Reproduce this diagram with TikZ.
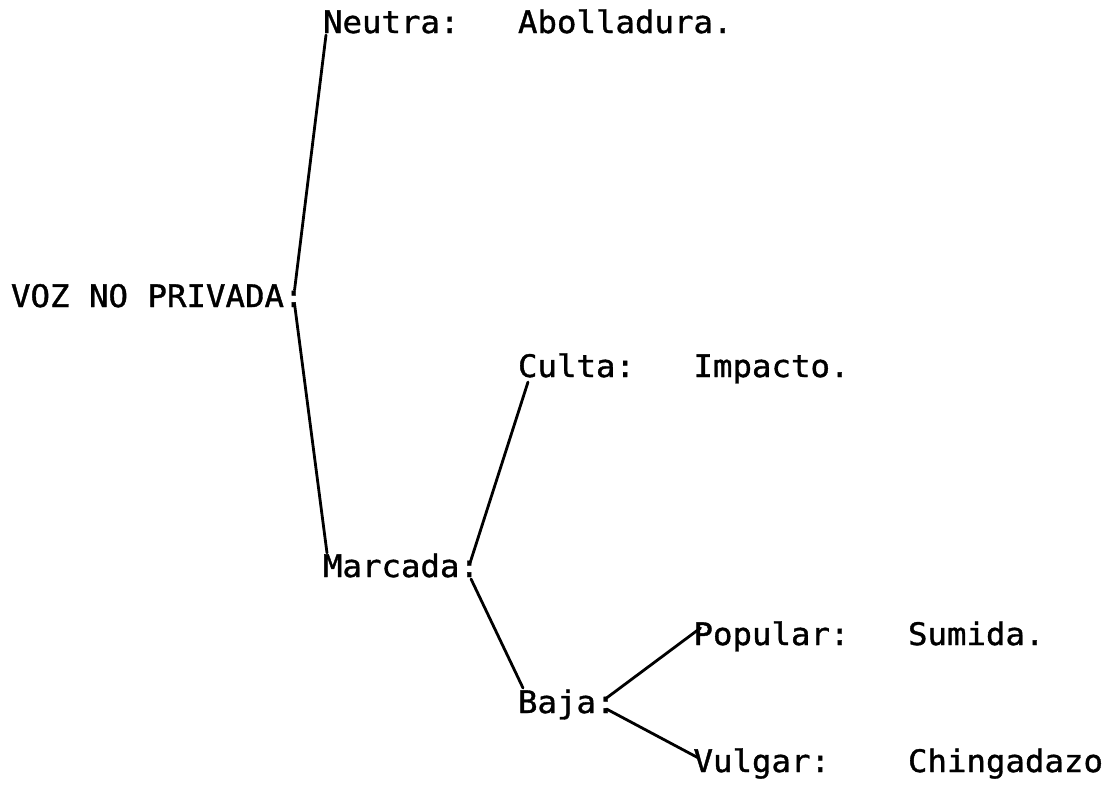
\documentclass[tikz,border=0pt]{standalone}
\usepackage{fontspec}
\newfontfamily\tw[FakeStretch=1.045,FakeBold=1.2]{DejaVu Sans Mono}
\usetikzlibrary{calc}
\tikzset{
  lbl/.style={anchor=base west, inner sep=0pt, outer sep=0pt, font=\tw\fontsize{31}{31}\selectfont},
  branch/.style={line width=2.8pt, line cap=round}
}
\begin{document}
\begin{tikzpicture}[x=1pt,y=-1pt]
\useasboundingbox[fill=white] (0,0) rectangle (1111,785);
% text nodes (x = column grid, y = baseline)
\node[lbl] (voz) at (11,307) {VOZ NO PRIVADA:};
\node[lbl] (neu) at (323,33) {Neutra:};
\node[lbl] (abo) at (518,33) {Abolladura.};
\node[lbl] (mar) at (323,577) {Marcada:};
\node[lbl] (cul) at (518,377) {Culta:};
\node[lbl] (imp) at (693.5,377) {Impacto.};
\node[lbl] (baj) at (518,713) {Baja:};
\node[lbl] (pop) at (693.5,645) {Popular:};
\node[lbl] (sum) at (908,645) {Sumida.};
\node[lbl] (vul) at (693.5,772) {Vulgar:};
\node[lbl] (chi) at (908,772) {Chingadazo};
% connectors
\draw[branch] ($(voz.base east)+(-9,-17)$) -- ($(neu.base west)+(3,2)$);
\draw[branch] ($(voz.base east)+(-9,-3)$) -- ($(mar.base west)+(4,-24)$);
\draw[branch] ($(mar.base east)+(-9,-14)$) -- ($(cul.base west)+(10,5)$);
\draw[branch] ($(mar.base east)+(-8,2)$) -- ($(baj.base west)+(5,-25)$);
\draw[branch] ($(baj.base east)+(-9,-15)$) -- ($(pop.base west)+(7,-17)$);
\draw[branch] ($(baj.base east)+(-9,-4)$) -- ($(vul.base west)+(5,-14)$);
\end{tikzpicture}
\end{document}
